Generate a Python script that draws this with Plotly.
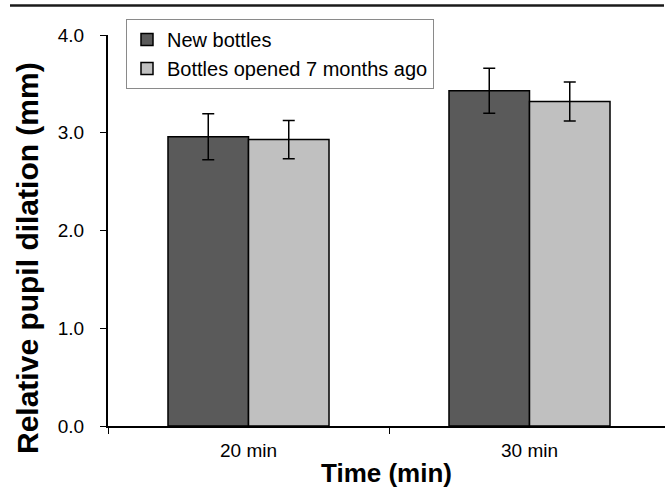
import plotly.graph_objects as go

categories = ["20 min", "30 min"]
new_vals = [2.96, 3.43]
new_err = [0.235, 0.23]
old_vals = [2.93, 3.32]
old_err = [0.195, 0.20]
y_ticks = [0.0, 1.0, 2.0, 3.0, 4.0]
y_tick_text = ["0.0", "1.0", "2.0", "3.0", "4.0"]

W, H = 665, 489
L, T, B = 108, 35, 63
plot_w = W - L
plot_h = H - T - B

fig = go.Figure()
fig.add_trace(go.Bar(
    x=categories, y=new_vals, name="New bottles",
    marker=dict(color="#5a5a5a", line=dict(color="#000000", width=1.5)),
    error_y=dict(type="data", array=new_err, color="#000000", thickness=1.5, width=6),
))
fig.add_trace(go.Bar(
    x=categories, y=old_vals, name="Bottles opened 7 months ago",
    marker=dict(color="#c0c0c0", line=dict(color="#000000", width=1.5)),
    error_y=dict(type="data", array=old_err, color="#000000", thickness=1.5, width=6),
))

fig.update_layout(
    width=W, height=H,
    margin=dict(l=L, r=0, t=T, b=B, autoexpand=False),
    paper_bgcolor="white", plot_bgcolor="white",
    barmode="group", bargap=0.427, bargroupgap=0,
    font=dict(family="Liberation Sans, Arial, sans-serif", color="#000000", size=19),
    showlegend=True,
    legend=dict(
        x=(126 - L) / plot_w, y=(426 - 19) / plot_h, xanchor="left", yanchor="top",
        bordercolor="#8a8a8a", borderwidth=1, bgcolor="white",
        font=dict(size=20), traceorder="normal", itemwidth=30,
    ),
    xaxis=dict(
        type="category", range=[-0.5, -0.5 + plot_w / 281.0],
        showline=True, linecolor="#000000", linewidth=2,
        ticks="outside", tickson="boundaries", ticklen=6, tickcolor="#000000", tickwidth=1,
        showgrid=False, zeroline=False,
        tickfont=dict(size=19), ticklabelstandoff=6,
        title=dict(text="<b>Time (min)</b>", font=dict(size=26), standoff=4),
    ),
    yaxis=dict(
        range=[0, 4.0], tickvals=y_ticks, ticktext=y_tick_text,
        showline=True, linecolor="#000000", linewidth=2,
        ticks="outside", ticklen=6, tickcolor="#000000", tickwidth=1,
        showgrid=False, zeroline=False,
        tickfont=dict(size=19), ticklabelstandoff=12,
    ),
    annotations=[dict(
        text="<b>Relative pupil dilation (mm)</b>", textangle=-90,
        xref="paper", yref="paper",
        x=(27 - L) / plot_w, y=(426 - 258) / plot_h,
        xanchor="center", yanchor="middle", showarrow=False,
        font=dict(size=30),
    )],
    shapes=[dict(
        type="line", xref="paper", yref="paper",
        x0=(10 - L) / plot_w, x1=(664 - L) / plot_w,
        y0=(426 - 5.5) / plot_h, y1=(426 - 5.5) / plot_h,
        line=dict(color="#1a1a1a", width=2.5),
    )],
)

fig.write_html(
    "out.html",
    config={"displayModeBar": False},
    post_script="document.body.style.margin='0';document.body.style.overflow='hidden';",
)
